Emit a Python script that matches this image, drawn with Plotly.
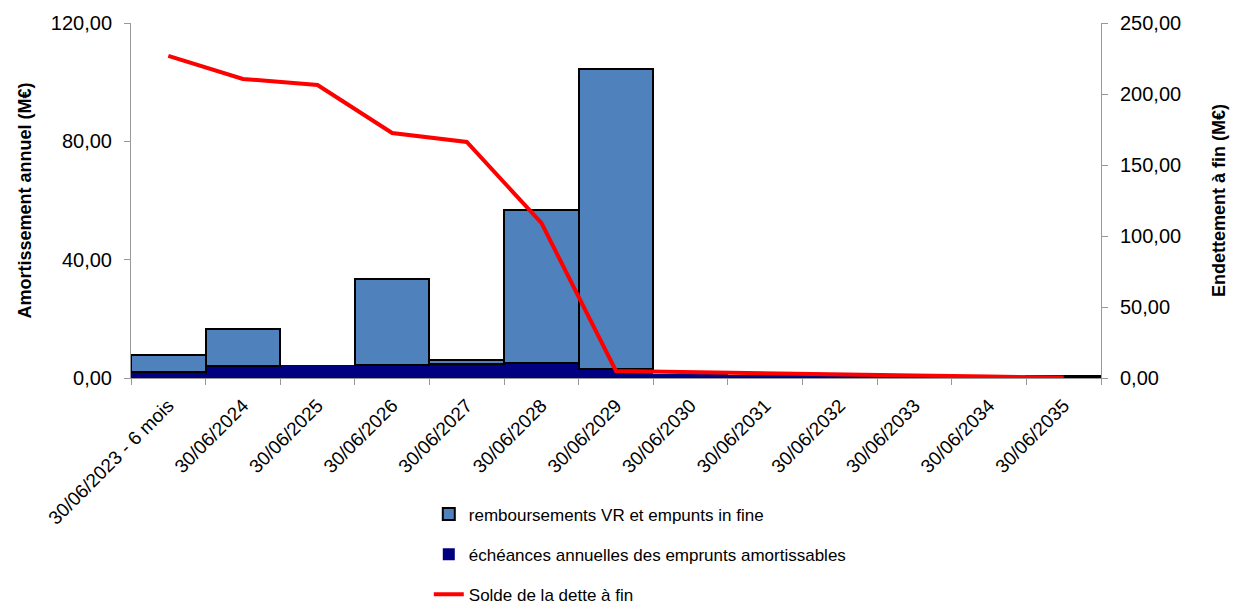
import plotly.graph_objects as go

categories = ["30/06/2023 - 6 mois", "30/06/2024", "30/06/2025", "30/06/2026", "30/06/2027",
              "30/06/2028", "30/06/2029", "30/06/2030", "30/06/2031", "30/06/2032",
              "30/06/2033", "30/06/2034", "30/06/2035"]
echeances = [2.0, 4.2, 4.5, 4.5, 4.8, 5.2, 3.1, 1.3, 1.1, 0.9, 0.7, 0.5, 0.3]
remboursements = [5.9, 12.4, None, 29.0, 1.4, 51.5, 101.4, None, None, None, None, None, 0.5]
solde = [226.8, 210.6, 206.3, 172.5, 166.2, 109.2, 5.0, 4.0, 3.2, 2.4, 1.7, 1.0, 0.3]

fig = go.Figure()
fig.add_trace(go.Bar(x=categories, y=echeances, name="échéances annuelles des emprunts amortissables",
                     marker=dict(color="#000080", line=dict(width=0)), legendrank=2,
                     legendgroup="g2"))
fig.add_trace(go.Bar(x=categories, y=remboursements, name="remboursements VR et empunts in fine",
                     marker=dict(color="#4F81BD", line=dict(color="black", width=2)), legendrank=1,
                     legendgroup="g1"))
fig.add_trace(go.Scatter(x=categories, y=solde, name="Solde de la dette à fin", yaxis="y2",
                         mode="lines", line=dict(color="#FF0000", width=4), legendrank=3,
                         legendgroup="g3"))

axis_common = dict(showgrid=False, showline=True, linecolor="#999999", linewidth=1,
                   ticks="outside", tickcolor="#999999", ticklen=6, automargin=False)

fig.update_layout(
    width=1233, height=608,
    margin=dict(l=131, r=132, t=23, b=230, autoexpand=False),
    paper_bgcolor="white", plot_bgcolor="white",
    barmode="stack", bargap=0,
    separators=", ",
    font=dict(family="Liberation Sans, Arial, sans-serif", color="black", size=17),
    xaxis=dict(type="category", tickson="boundaries", tickangle=-45,
               tickfont=dict(size=19), ticklabelstandoff=8, **axis_common),
    yaxis=dict(range=[0, 120], dtick=40, tickformat=".2f", tickfont=dict(size=20),
               ticklabelstandoff=8,
               title=dict(text="<b>Amortissement annuel (M€)</b>", font=dict(size=18), standoff=14),
               **axis_common),
    yaxis2=dict(range=[0, 250], dtick=50, tickformat=".2f", overlaying="y", side="right",
                tickfont=dict(size=20), ticklabelstandoff=8,
                title=dict(text="<b>Endettement à fin (M€)</b>", font=dict(size=18), standoff=32),
                **axis_common),
    showlegend=True,
    legend=dict(x=0.307, y=-0.334, xanchor="left", yanchor="top", orientation="v",
                font=dict(size=17), tracegroupgap=15, bgcolor="rgba(0,0,0,0)",
                traceorder="grouped"),
)

fig.write_html("out.html")
